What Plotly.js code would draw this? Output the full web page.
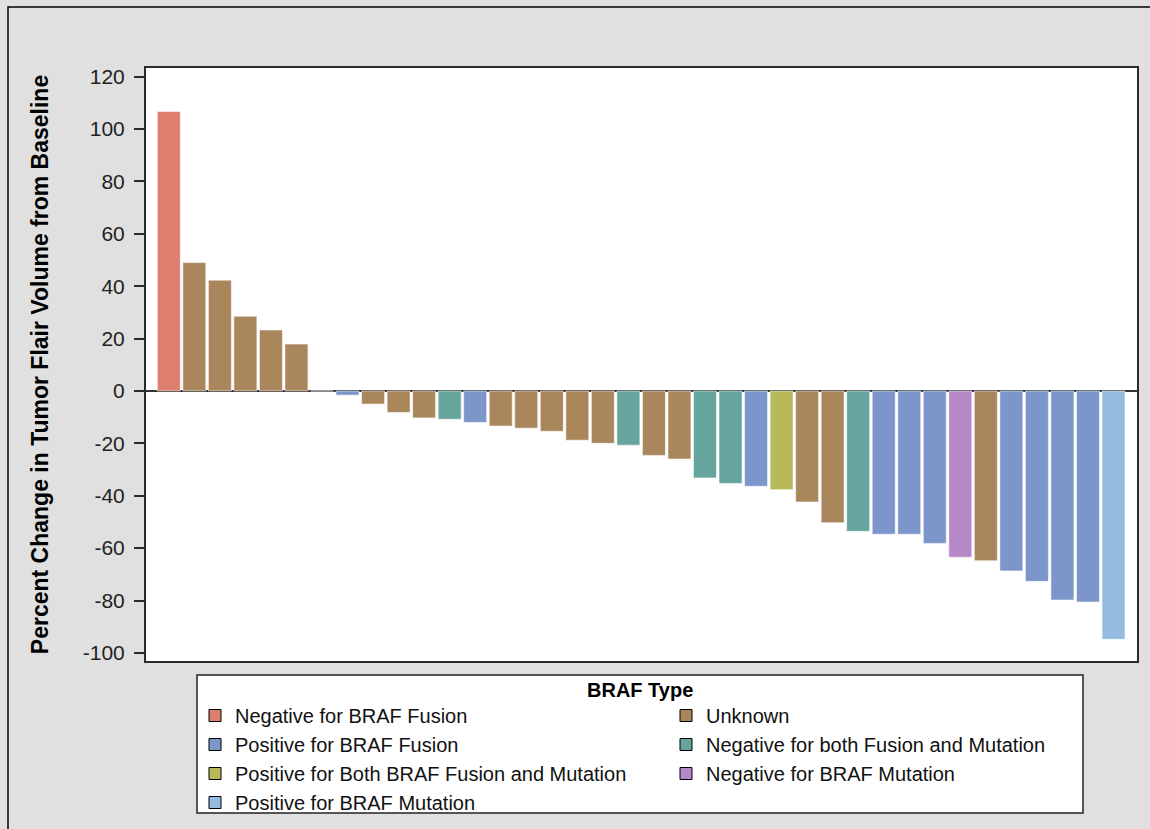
<!DOCTYPE html>
<html>
<head>
<meta charset="utf-8">
<script src="https://cdn.plot.ly/plotly-3.0.1.min.js"></script>
<style>
  html, body { margin: 0; padding: 0; background: #e0e0e0; }
  #chart { width: 1150px; height: 829px; }
</style>
</head>
<body>
<div id="chart"></div>
<script>
// ---- data ----
const patientOrder = [
  1,2,3,4,5,6,7,8,9,10,11,12,13,14,15,16,17,18,19,
  20,21,22,23,24,25,26,27,28,29,30,31,32,33,34,35,36,37,38
];
const percentChange = [
  106.7, 49.0, 42.3, 28.5, 23.3, 17.9, 0, -1.6, -5.0, -8.2,
  -10.3, -10.8, -12.0, -13.4, -14.2, -15.4, -18.8, -20.0, -20.7, -24.6,
  -26.0, -33.2, -35.3, -36.4, -37.7, -42.4, -50.3, -53.6, -54.7, -54.7,
  -58.2, -63.5, -64.8, -68.7, -72.7, -79.8, -80.6, -94.8
];
const brafType = [
  "Negative for BRAF Fusion", "Unknown", "Unknown", "Unknown", "Unknown", "Unknown", "Unknown",
  "Positive for BRAF Fusion", "Unknown", "Unknown", "Unknown",
  "Negative for both Fusion and Mutation", "Positive for BRAF Fusion",
  "Unknown", "Unknown", "Unknown", "Unknown", "Unknown",
  "Negative for both Fusion and Mutation", "Unknown", "Unknown",
  "Negative for both Fusion and Mutation", "Negative for both Fusion and Mutation",
  "Positive for BRAF Fusion", "Positive for Both BRAF Fusion and Mutation",
  "Unknown", "Unknown", "Negative for both Fusion and Mutation",
  "Positive for BRAF Fusion", "Positive for BRAF Fusion", "Positive for BRAF Fusion",
  "Negative for BRAF Mutation", "Unknown",
  "Positive for BRAF Fusion", "Positive for BRAF Fusion", "Positive for BRAF Fusion",
  "Positive for BRAF Fusion", "Positive for BRAF Mutation"
];
const typeNames = [
  "Negative for BRAF Fusion",
  "Unknown",
  "Positive for BRAF Fusion",
  "Negative for both Fusion and Mutation",
  "Positive for Both BRAF Fusion and Mutation",
  "Negative for BRAF Mutation",
  "Positive for BRAF Mutation"
];
const typeColors = ["#DE7E6F", "#A9865B", "#7C95CA", "#66A59D", "#B8BA5A", "#B589C8", "#94BBE0"];
const yTickVals = [-100, -80, -60, -40, -20, 0, 20, 40, 60, 80, 100, 120];

// ---- build traces ----
const FONT = "'Liberation Sans', Arial, Helvetica, sans-serif";
const traces = [];
typeNames.forEach((name, k) => {
  const xs = [], ys = [];
  percentChange.forEach((v, i) => {
    if (brafType[i] === name) { xs.push(patientOrder[i]); ys.push(v); }
  });
  // bars
  traces.push({
    type: "bar", name: name, x: xs, y: ys,
    legendgroup: name, showlegend: false,
    marker: { color: typeColors[k], line: { color: "rgba(255,255,255,0.55)", width: 1 } },
    hovertemplate: name + "<br>%{y:.1f}%<extra></extra>"
  });
  // legend entry (swatch with dark outline, no marks)
  traces.push({
    type: "bar", name: name, x: [null], y: [null],
    legendgroup: name, showlegend: true, hoverinfo: "skip",
    marker: { color: typeColors[k], line: { color: "#000", width: 1 } }
  });
});

// ---- geometry helpers (pixel -> paper) ----
const L = 146, R = 1137, T = 68, B = 661;
const W = R - L, H = B - T;
const px = v => (v - L) / W;
const py = v => (B - v) / H;

const layout = {
  width: 1150, height: 829,
  paper_bgcolor: "#e0e0e0",
  plot_bgcolor: "#ffffff",
  margin: { l: L, r: 1150 - R, t: T, b: 829 - B, autoexpand: false },
  barmode: "overlay",
  bargap: 0.1,
  font: { family: FONT, color: "#000" },
  showlegend: true,
  xaxis: {
    range: [0.107, 38.92],
    showticklabels: false, ticks: "", showgrid: false, zeroline: false,
    showline: true, mirror: true, linecolor: "#2b2b2b", linewidth: 2
  },
  yaxis: {
    range: [-103.1, 123.3],
    tickvals: yTickVals,
    ticktext: yTickVals.map(String),
    ticks: "outside", ticklen: 10, tickwidth: 1.5, tickcolor: "#2b2b2b",
    tickfont: { family: FONT, size: 21, color: "#222" },
    ticklabelstandoff: 5,
    showgrid: false,
    zeroline: true, zerolinecolor: "#333", zerolinewidth: 2,
    showline: true, mirror: true, linecolor: "#2b2b2b", linewidth: 2,
    title: {
      text: "Percent Change in Tumor Flair Volume from Baseline",
      font: { family: FONT, size: 23, color: "#000", weight: "bold" },
      standoff: 28
    }
  },
  legend: {
    orientation: "h",
    x: px(195), xanchor: "left",
    y: py(696), yanchor: "top",
    entrywidth: 426, entrywidthmode: "pixels",
    bgcolor: "rgba(0,0,0,0)", borderwidth: 0,
    font: { family: FONT, size: 20, color: "#111" },
    traceorder: "normal",
    itemclick: false, itemdoubleclick: false
  },
  annotations: [{
    text: "BRAF Type", xref: "paper", yref: "paper",
    x: px(640), y: py(690), xanchor: "center", yanchor: "middle",
    showarrow: false,
    font: { family: FONT, size: 20, color: "#000", weight: "bold" }
  }],
  shapes: [
    { type: "rect", xref: "paper", yref: "paper", layer: "below",
      x0: px(197), x1: px(1083), y0: py(675), y1: py(813),
      fillcolor: "#ffffff", line: { color: "#222", width: 1.5 } },
    { type: "rect", xref: "paper", yref: "paper", layer: "below",
      x0: px(8), x1: px(1170), y0: py(7), y1: py(850),
      fillcolor: "rgba(0,0,0,0)", line: { color: "#000", width: 1.5 } }
  ]
};

Plotly.newPlot("chart", traces, layout, { displayModeBar: false, staticPlot: false });
</script>
</body>
</html>
